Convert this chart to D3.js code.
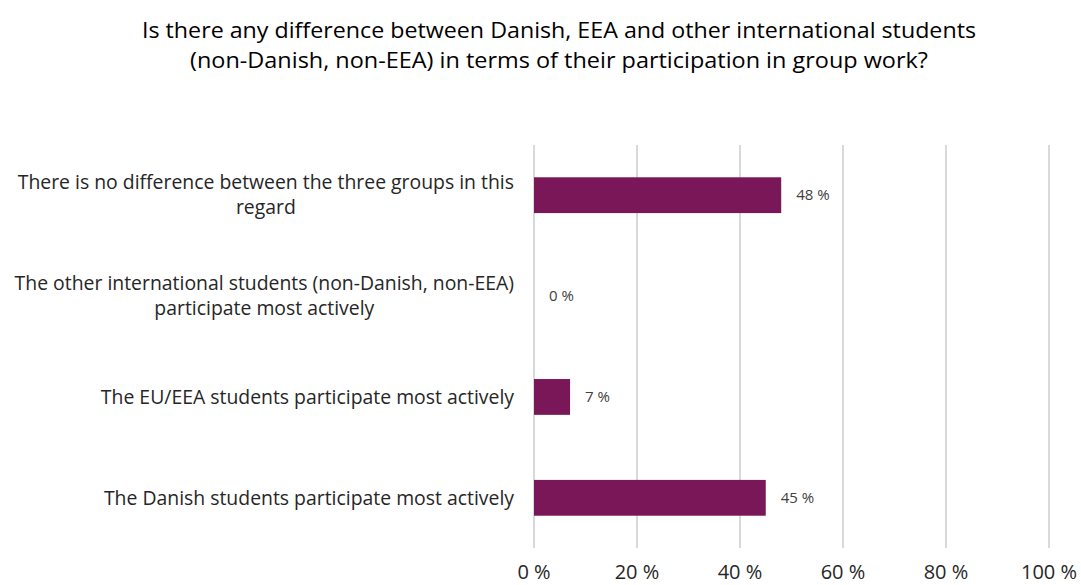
<!DOCTYPE html>
<html>
<head>
<meta charset="utf-8">
<script src="https://cdn.jsdelivr.net/npm/d3@7"></script>
<style>
  html, body { margin: 0; padding: 0; background: #fff; }
  svg { display: block; }
</style>
</head>
<body>
<svg id="chart" width="1081" height="585"></svg>
<script>
// Survey answers, top to bottom
const categories = [
  ["There is no difference between the three groups in this", "regard"],
  ["The other international students (non-Danish, non-EEA)", "participate most actively"],
  ["The EU/EEA students participate most actively"],
  ["The Danish students participate most actively"]
];
const shares = [48, 0, 7, 45];
const tickValues = [0, 20, 40, 60, 80, 100];
const titleLines = [
  "Is there any difference between Danish, EEA and other international students",
  "(non-Danish, non-EEA) in terms of their participation in group work?"
];
const titleWidths = [834, 738];

const svg = d3.select("#chart");
const margin = { top: 145, left: 534, right: 32, bottom: 37 };
const W = 1081, H = 585;

const x = d3.scaleLinear().domain([0, 100]).range([margin.left, W - margin.right]);
const y = d3.scaleBand()
  .domain(d3.range(categories.length))
  .range([margin.top, H - margin.bottom])
  .paddingInner(0.645).paddingOuter(0.32);

// Title
svg.append("g").selectAll("text")
  .data(titleLines).join("text")
  .attr("x", 559).attr("y", (d, i) => 38 + i * 30)
  .attr("text-anchor", "middle")
  .attr("font-family", "'Open Sans', sans-serif")
  .attr("font-size", 22)
  .attr("textLength", (d, i) => titleWidths[i])
  .attr("lengthAdjust", "spacingAndGlyphs")
  .attr("fill", "#000")
  .text(d => d);

// Vertical gridlines
svg.append("g").selectAll("line")
  .data(tickValues).join("line")
  .attr("x1", d => x(d)).attr("x2", d => x(d))
  .attr("y1", margin.top).attr("y2", H - margin.bottom)
  .attr("stroke", "#d9d9d9").attr("stroke-width", 2);

// Bars
svg.append("g").selectAll("rect")
  .data(shares).join("rect")
  .attr("x", x(0))
  .attr("y", (d, i) => y(i))
  .attr("width", d => x(d) - x(0))
  .attr("height", y.bandwidth())
  .attr("fill", "#7a1758");

// Value labels
svg.append("g").selectAll("text")
  .data(shares).join("text")
  .attr("x", d => x(d) + 15)
  .attr("y", (d, i) => y(i) + y.bandwidth() / 2)
  .attr("dy", "0.35em")
  .attr("font-family", "'Open Sans', sans-serif")
  .attr("font-size", 15)
  .attr("fill", "#404040")
  .text(d => d + " %");

// Category labels, each block centred on its widest line and right-aligned at the axis
const catG = svg.append("g").selectAll("text")
  .data(categories).join("text")
  .attr("text-anchor", "middle")
  .attr("font-family", "'Open Sans', sans-serif")
  .attr("font-size", 19.4)
  .attr("fill", "#262626");
catG.each(function(lines, i) {
  const t = d3.select(this);
  const cy = y(i) + y.bandwidth() / 2;
  const lh = 25;
  const y0 = cy - (lines.length - 1) * lh / 2;
  const widths = lines.map(l => {
    const s = t.append("tspan").text(l);
    const w = s.node().getComputedTextLength();
    s.remove();
    return w;
  });
  const cx = 514 - d3.max(widths) / 2;
  lines.forEach((l, k) => {
    t.append("tspan")
      .attr("x", cx)
      .attr("y", y0 + k * lh)
      .attr("dy", "0.35em")
      .text(l);
  });
});

// X axis tick labels
svg.append("g").selectAll("text")
  .data(tickValues).join("text")
  .attr("x", d => x(d))
  .attr("y", 579)
  .attr("text-anchor", "middle")
  .attr("font-family", "'Open Sans', sans-serif")
  .attr("font-size", 20)
  .attr("fill", "#262626")
  .text(d => d + " %");
</script>
</body>
</html>
